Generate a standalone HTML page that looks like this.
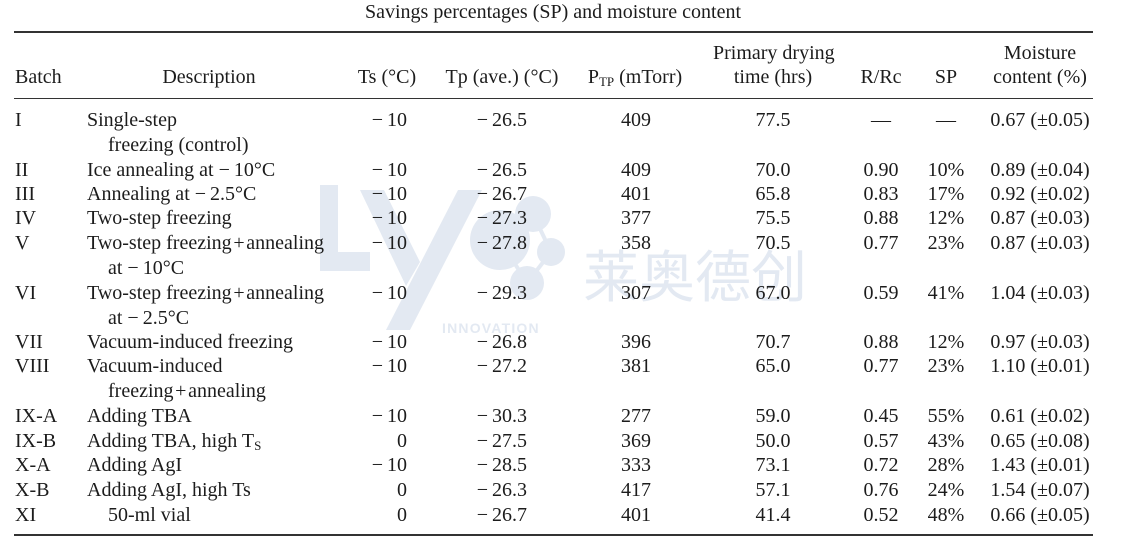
<!DOCTYPE html>
<html><head><meta charset="utf-8"><style>
html,body{margin:0;padding:0;background:#fff;}
#c{position:relative;width:1122px;height:552px;overflow:hidden;font-family:"Liberation Serif","Noto Serif CJK SC",serif;font-size:20px;color:#1c1c1c;}
.rule{position:absolute;left:14px;width:1079px;height:1.6px;background:#333;}
.row{position:absolute;left:0;width:1122px;height:24px;line-height:24px;}
.row span{position:absolute;top:0;white-space:nowrap;}
.b{left:15px;}
.d{left:87px;}
.di{left:108px;}
.ts{right:715px;}
.tp{right:595px;}
.p{left:586px;width:100px;text-align:center;}
.t{left:713px;width:120px;text-align:center;}
.r{left:846px;width:70px;text-align:center;}
.sp{left:916px;width:60px;text-align:center;}
.m{left:980px;width:120px;text-align:center;}
sub{font-size:13px;vertical-align:-3px;line-height:0;}
</style></head><body><div id="c">
<svg width="1122" height="552" style="position:absolute;left:0;top:0" xmlns="http://www.w3.org/2000/svg">
<g fill="#e3e9f2">
<rect x="320" y="185" width="18" height="86"/>
<rect x="320" y="252" width="50" height="19"/>
<polygon points="360,190 384,190 420,262 406,286"/>
<polygon points="458,190 482,190 410,330 386,330"/>
<line x1="500" y1="240" x2="533" y2="214" stroke="#e3e9f2" stroke-width="4"/>
<line x1="533" y1="214" x2="551" y2="252" stroke="#e3e9f2" stroke-width="4"/>
<line x1="551" y1="252" x2="527" y2="283" stroke="#e3e9f2" stroke-width="4"/>
<line x1="500" y1="240" x2="527" y2="283" stroke="#e3e9f2" stroke-width="4"/>
<circle cx="500" cy="240" r="30"/>
<circle cx="533" cy="214" r="18"/>
<circle cx="551" cy="252" r="14"/>
<circle cx="527" cy="283" r="17"/>
</g>
<text x="442" y="333" font-family="Liberation Sans, sans-serif" font-weight="bold" font-size="14" letter-spacing="1.2" fill="#e3e9f2">INNOVATION</text>
<text x="583" y="297" font-family="Noto Sans CJK SC, sans-serif" font-size="56" fill="#e3e9f2">莱奥德创</text>
</svg>

<div class="row" style="top:0px;"><span style="left:0;width:1106px;text-align:center;">Savings percentages (SP) and moisture content</span></div>
<div class="rule" style="top:31px;"></div>

<div class="row" style="top:41px;"><span class="t">Primary drying</span><span class="m">Moisture</span></div>
<div class="row" style="top:65px;"><span class="b">Batch</span><span style="left:162px;width:94px;text-align:center;">Description</span><span style="left:337px;width:100px;text-align:center;">Ts (°C)</span><span style="left:432px;width:140px;text-align:center;">Tp (ave.) (°C)</span><span style="left:575px;width:120px;text-align:center;">P<sub>TP</sub> (mTorr)</span><span class="t">time (hrs)</span><span class="r">R/Rc</span><span class="sp">SP</span><span class="m">content (%)</span></div>
<div class="rule" style="top:97.5px;"></div>

<div class="row" style="top:108px;"><span class="b">I</span><span class="d">Single-step</span><span class="ts">−&#8201;10</span><span class="tp">−&#8201;26.5</span><span class="p">409</span><span class="t">77.5</span><span class="r">—</span><span class="sp">—</span><span class="m">0.67 (±0.05)</span></div>
<div class="row" style="top:133px;"><span class="di">freezing (control)</span></div>
<div class="row" style="top:158px;"><span class="b">II</span><span class="d">Ice annealing at −&#8201;10°C</span><span class="ts">−&#8201;10</span><span class="tp">−&#8201;26.5</span><span class="p">409</span><span class="t">70.0</span><span class="r">0.90</span><span class="sp">10%</span><span class="m">0.89 (±0.04)</span></div>
<div class="row" style="top:182px;"><span class="b">III</span><span class="d">Annealing at −&#8201;2.5°C</span><span class="ts">−&#8201;10</span><span class="tp">−&#8201;26.7</span><span class="p">401</span><span class="t">65.8</span><span class="r">0.83</span><span class="sp">17%</span><span class="m">0.92 (±0.02)</span></div>
<div class="row" style="top:206px;"><span class="b">IV</span><span class="d">Two-step freezing</span><span class="ts">−&#8201;10</span><span class="tp">−&#8201;27.3</span><span class="p">377</span><span class="t">75.5</span><span class="r">0.88</span><span class="sp">12%</span><span class="m">0.87 (±0.03)</span></div>
<div class="row" style="top:231px;"><span class="b">V</span><span class="d">Two-step freezing&#8202;+&#8202;annealing</span><span class="ts">−&#8201;10</span><span class="tp">−&#8201;27.8</span><span class="p">358</span><span class="t">70.5</span><span class="r">0.77</span><span class="sp">23%</span><span class="m">0.87 (±0.03)</span></div>
<div class="row" style="top:256px;"><span class="di">at −&#8201;10°C</span></div>
<div class="row" style="top:281px;"><span class="b">VI</span><span class="d">Two-step freezing&#8202;+&#8202;annealing</span><span class="ts">−&#8201;10</span><span class="tp">−&#8201;29.3</span><span class="p">307</span><span class="t">67.0</span><span class="r">0.59</span><span class="sp">41%</span><span class="m">1.04 (±0.03)</span></div>
<div class="row" style="top:306px;"><span class="di">at −&#8201;2.5°C</span></div>
<div class="row" style="top:330px;"><span class="b">VII</span><span class="d">Vacuum-induced freezing</span><span class="ts">−&#8201;10</span><span class="tp">−&#8201;26.8</span><span class="p">396</span><span class="t">70.7</span><span class="r">0.88</span><span class="sp">12%</span><span class="m">0.97 (±0.03)</span></div>
<div class="row" style="top:354px;"><span class="b">VIII</span><span class="d">Vacuum-induced</span><span class="ts">−&#8201;10</span><span class="tp">−&#8201;27.2</span><span class="p">381</span><span class="t">65.0</span><span class="r">0.77</span><span class="sp">23%</span><span class="m">1.10 (±0.01)</span></div>
<div class="row" style="top:379px;"><span class="di">freezing&#8202;+&#8202;annealing</span></div>
<div class="row" style="top:404px;"><span class="b">IX-A</span><span class="d">Adding TBA</span><span class="ts">−&#8201;10</span><span class="tp">−&#8201;30.3</span><span class="p">277</span><span class="t">59.0</span><span class="r">0.45</span><span class="sp">55%</span><span class="m">0.61 (±0.02)</span></div>
<div class="row" style="top:429px;"><span class="b">IX-B</span><span class="d">Adding TBA, high T<sub>S</sub></span><span class="ts">0</span><span class="tp">−&#8201;27.5</span><span class="p">369</span><span class="t">50.0</span><span class="r">0.57</span><span class="sp">43%</span><span class="m">0.65 (±0.08)</span></div>
<div class="row" style="top:453px;"><span class="b">X-A</span><span class="d">Adding AgI</span><span class="ts">−&#8201;10</span><span class="tp">−&#8201;28.5</span><span class="p">333</span><span class="t">73.1</span><span class="r">0.72</span><span class="sp">28%</span><span class="m">1.43 (±0.01)</span></div>
<div class="row" style="top:478px;"><span class="b">X-B</span><span class="d">Adding AgI, high Ts</span><span class="ts">0</span><span class="tp">−&#8201;26.3</span><span class="p">417</span><span class="t">57.1</span><span class="r">0.76</span><span class="sp">24%</span><span class="m">1.54 (±0.07)</span></div>
<div class="row" style="top:503px;"><span class="b">XI</span><span class="di">50-ml vial</span><span class="ts">0</span><span class="tp">−&#8201;26.7</span><span class="p">401</span><span class="t">41.4</span><span class="r">0.52</span><span class="sp">48%</span><span class="m">0.66 (±0.05)</span></div>
<div class="rule" style="top:534px;"></div>
</div></body></html>
